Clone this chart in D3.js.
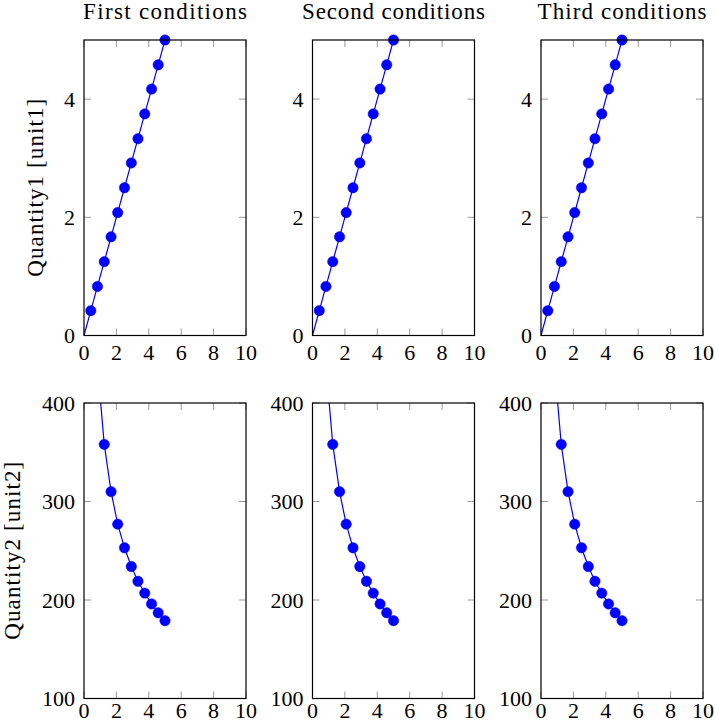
<!DOCTYPE html>
<html>
<head>
<meta charset="utf-8">
<script src="https://cdn.jsdelivr.net/npm/d3@7"></script>
<style>
  body { margin: 0; background: #fff; }
  svg text { font-family: "Liberation Serif", "DejaVu Serif", serif; fill: #000; }
</style>
</head>
<body>
<svg id="chart" width="715" height="723"></svg>
<script>
// column titles and row labels
const titles = ['First conditions', 'Second conditions', 'Third conditions'];
const rowLabels = ['Quantity1 [unit1]', 'Quantity2 [unit2]'];

// shared x axis
const xDomain = [0, 10];
const xTicks = [0, 2, 4, 6, 8, 10];

// row 1: Quantity1
const q1Domain = [0, 5];
const q1Ticks = [0, 2, 4];
const q1X = [0, 0.42, 0.83, 1.25, 1.67, 2.08, 2.5, 2.92, 3.33, 3.75, 4.17, 4.58, 5];
const q1Y = [0, 0.42, 0.83, 1.25, 1.67, 2.08, 2.5, 2.92, 3.33, 3.75, 4.17, 4.58, 5];

// row 2: Quantity2 (first two points lie above the axis and get clipped)
const q2Domain = [100, 400];
const q2Ticks = [100, 200, 300, 400];
const q2X = [0.42, 0.83, 1.25, 1.67, 2.08, 2.5, 2.92, 3.33, 3.75, 4.17, 4.58, 5];
const q2Y = [620, 438, 358, 310, 277, 253, 234, 219, 207, 196, 187, 179];

const rows = [
    {domain: q1Domain, ticks: q1Ticks, xs: q1X, ys: q1Y, label: rowLabels[0], labelX: 43, xLabelGap: 24},
    {domain: q2Domain, ticks: q2Ticks, xs: q2X, ys: q2Y, label: rowLabels[1], labelX: 20, xLabelGap: 19}
];

const svg = d3.select('#chart');
const colLeft = [84, 312.5, 541];
const rowTop = [40, 403];
const w = 162, h = 295.5;
const tickLen = 7;
const blue = '#0000ff';
const fontSize = 22;
// widths the CM-style texts take in the picture
const titleWidths = [164, 183, 169];
const labelWidth = 178;

rows.forEach((row, r) => {
    colLeft.forEach((left, c) => {
        const g = svg.append('g').attr('transform', `translate(${left},${rowTop[r]})`);
        const x = d3.scaleLinear().domain(xDomain).range([0, w]);
        const y = d3.scaleLinear().domain(row.domain).range([h, 0]);
        const clipId = `clip-${r}-${c}`;

        g.append('clipPath').attr('id', clipId)
            .append('rect').attr('width', w).attr('height', h);

        // inward ticks on all four sides
        const ticks = g.append('g').attr('stroke', '#9a9a9a').attr('stroke-width', 1);
        xTicks.forEach(t => {
            ticks.append('line').attr('x1', x(t)).attr('x2', x(t)).attr('y1', h).attr('y2', h - tickLen);
            ticks.append('line').attr('x1', x(t)).attr('x2', x(t)).attr('y1', 0).attr('y2', tickLen);
        });
        row.ticks.forEach(t => {
            ticks.append('line').attr('x1', 0).attr('x2', tickLen).attr('y1', y(t)).attr('y2', y(t));
            ticks.append('line').attr('x1', w).attr('x2', w - tickLen).attr('y1', y(t)).attr('y2', y(t));
        });

        // tick labels
        g.append('g').selectAll('text').data(xTicks).enter().append('text')
            .attr('x', d => x(d)).attr('y', h + row.xLabelGap)
            .attr('text-anchor', 'middle').attr('font-size', fontSize)
            .text(d => d);
        g.append('g').selectAll('text').data(row.ticks).enter().append('text')
            .attr('x', -9).attr('y', d => y(d) + 7.5)
            .attr('text-anchor', 'end').attr('font-size', fontSize)
            .text(d => d);

        // data line
        const pts = row.xs.map((xv, i) => [xv, row.ys[i]]);
        g.append('path')
            .datum(pts)
            .attr('clip-path', `url(#${clipId})`)
            .attr('fill', 'none').attr('stroke', blue).attr('stroke-width', 1.2)
            .attr('d', d3.line().x(d => x(d[0])).y(d => y(d[1])));

        // markers (only for points inside the axis range)
        g.append('g').selectAll('circle')
            .data(pts.filter(d => d[0] > 0 && d[1] <= row.domain[1]))
            .enter().append('circle')
            .attr('cx', d => x(d[0])).attr('cy', d => y(d[1])).attr('r', 5.2)
            .attr('fill', blue).attr('stroke', blue).attr('stroke-width', 0.5);

        // frame
        g.append('rect').attr('width', w).attr('height', h)
            .attr('fill', 'none').attr('stroke', '#000').attr('stroke-width', 1.2);

        if (r === 0) {
            g.append('text').attr('x', w / 2).attr('y', -21)
                .attr('text-anchor', 'middle').attr('font-size', 23)
                .attr('textLength', titleWidths[c]).attr('lengthAdjust', 'spacing')
                .text(titles[c]);
        }
    });

    // row label on the left
    svg.append('text')
        .attr('transform', `translate(${row.labelX},${rowTop[r] + h / 2}) rotate(-90)`)
        .attr('text-anchor', 'middle').attr('font-size', 23)
        .attr('textLength', labelWidth).attr('lengthAdjust', 'spacing')
        .text(row.label);
});
</script>
</body>
</html>
